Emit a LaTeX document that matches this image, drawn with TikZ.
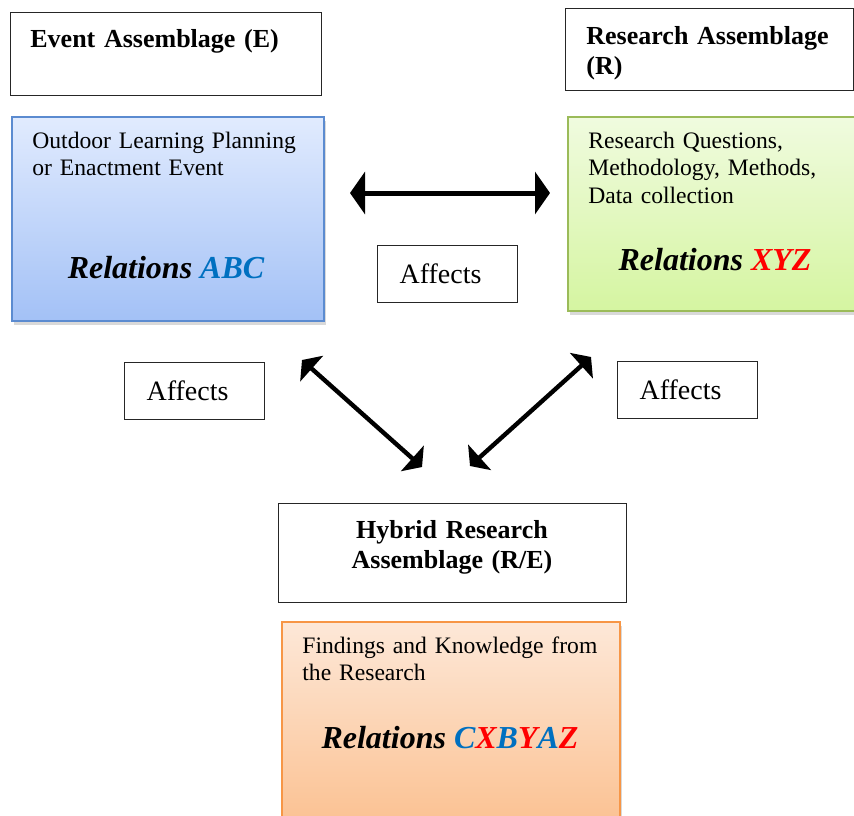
\documentclass[tikz,border=0pt]{standalone}
\usepackage{fontspec}
\setmainfont{Liberation Serif}
\usetikzlibrary{arrows.meta, positioning, shadows}

\definecolor{evedge}{HTML}{5B8BD0}
\definecolor{evtop}{HTML}{E1EBFE}
\definecolor{evbot}{HTML}{A3C1F6}
\definecolor{resedge}{HTML}{9BBB59}
\definecolor{restop}{HTML}{F0FBDF}
\definecolor{resbot}{HTML}{D5F5A1}
\definecolor{hybedge}{HTML}{F79646}
\definecolor{hybtop}{HTML}{FDE8D8}
\definecolor{hybbot}{HTML}{FBBE8C}
\definecolor{relblue}{HTML}{0070C0}
\definecolor{relred}{HTML}{FF0000}

\begin{document}
\begin{tikzpicture}[x=0.5pt, y=-0.5pt,
    headbox/.style={draw=black!85, line width=0.7pt, inner sep=0pt, anchor=north west},
    colbox/.style={draw=#1edge, line width=0.9pt, inner sep=0pt, anchor=north west,
        top color=#1top, bottom color=#1bot,
        drop shadow={opacity=0.3, shadow xshift=1.2pt, shadow yshift=-1.8pt}},
    headtext/.style={inner sep=0pt, align=left, font=\fontsize{13}{15}\selectfont\bfseries},
    bodytext/.style={inner sep=0pt, align=left, font=\fontsize{11.8}{13.75}\selectfont},
    reltext/.style={inner sep=0pt, anchor=base, font=\fontsize{16}{18}\selectfont\bfseries\itshape},
    affbox/.style={draw=black!85, line width=0.6pt, fill=white, anchor=north west,
        text width=48pt, inner xsep=11pt, inner ysep=0pt, minimum height=28.5pt,
        align=left, font=\fontsize{14}{16}\selectfont},
    biglink/.style={{Triangle[length=7.5pt, width=21pt]}-{Triangle[length=7.5pt, width=21pt]}, line width=2.5pt},
    link/.style={{Triangle[length=6.5pt, width=17pt]}-{Triangle[length=6.5pt, width=17pt]}, line width=2.2pt}
]
\useasboundingbox (0,0) rectangle (854,815);
\clip (0,0) rectangle (854,815);

% event assemblage
\node[headbox, minimum width=155.5pt, minimum height=41.5pt] (evhead) at (10,12) {};
\node[headtext, anchor=base west, text width=140pt] (evname) at (30,47) {Event Assemblage (E)};
\node[colbox=ev, minimum width=156pt, minimum height=102pt] (evbox) at (11,116) {};
\node[bodytext, anchor=base west, text width=145pt] (evtext) at (32,148) {Outdoor Learning Planning\\or Enactment Event};
\node[reltext] (evrel) at (166,278) {Relations \textcolor{relblue}{ABC}};

% research assemblage
\node[headbox, minimum width=144pt, minimum height=41pt] (reshead) at (565,8) {};
\node[headtext, anchor=base west, text width=130pt] (resname) at (586,44) {Research Assemblage\\(R)};
\node[colbox=res, minimum width=150pt, minimum height=97pt] (resbox) at (567,116) {};
\node[bodytext, anchor=base west, text width=130pt] (restext) at (588,148) {Research Questions,\\Methodology, Methods,\\Data collection};
\node[reltext] (resrel) at (715,270) {Relations \textcolor{relred}{XYZ}};

% hybrid research assemblage
\node[headbox, minimum width=174pt, minimum height=49.5pt] (hybhead) at (278,503) {};
\node[headtext, anchor=base, align=center, text width=160pt] (hybname) at (452,538) {Hybrid Research\\Assemblage (R/E)};
\node[colbox=hyb, minimum width=169pt, minimum height=110pt] (hybbox) at (281,621) {};
\node[bodytext, anchor=base west, text width=155pt] (hybtext) at (302,653) {Findings and Knowledge from\\the Research};
\node[reltext] (hybrel) at (450,748) {Relations \textcolor{relblue}{C}\textcolor{relred}{X}\textcolor{relblue}{B}\textcolor{relred}{Y}\textcolor{relblue}{A}\textcolor{relred}{Z}};

% affects labels
\node[affbox] (affer) at (377,245) {Affects};
\node[affbox] (affeh) at (124,362) {Affects};
\node[affbox] (affrh) at (617,361) {Affects};

% arrow ends
\coordinate (erL) at (350,193);
\coordinate (erR) at (550,193);
\coordinate (ehT) at (302,360);
\coordinate (ehB) at (422,467);
\coordinate (rhB) at (470,466);
\coordinate (rhT) at (591,357);

\draw[biglink] (erL) -- (erR);
\draw[link] (ehT) -- (ehB);
\draw[link] (rhB) -- (rhT);
\end{tikzpicture}
\end{document}
